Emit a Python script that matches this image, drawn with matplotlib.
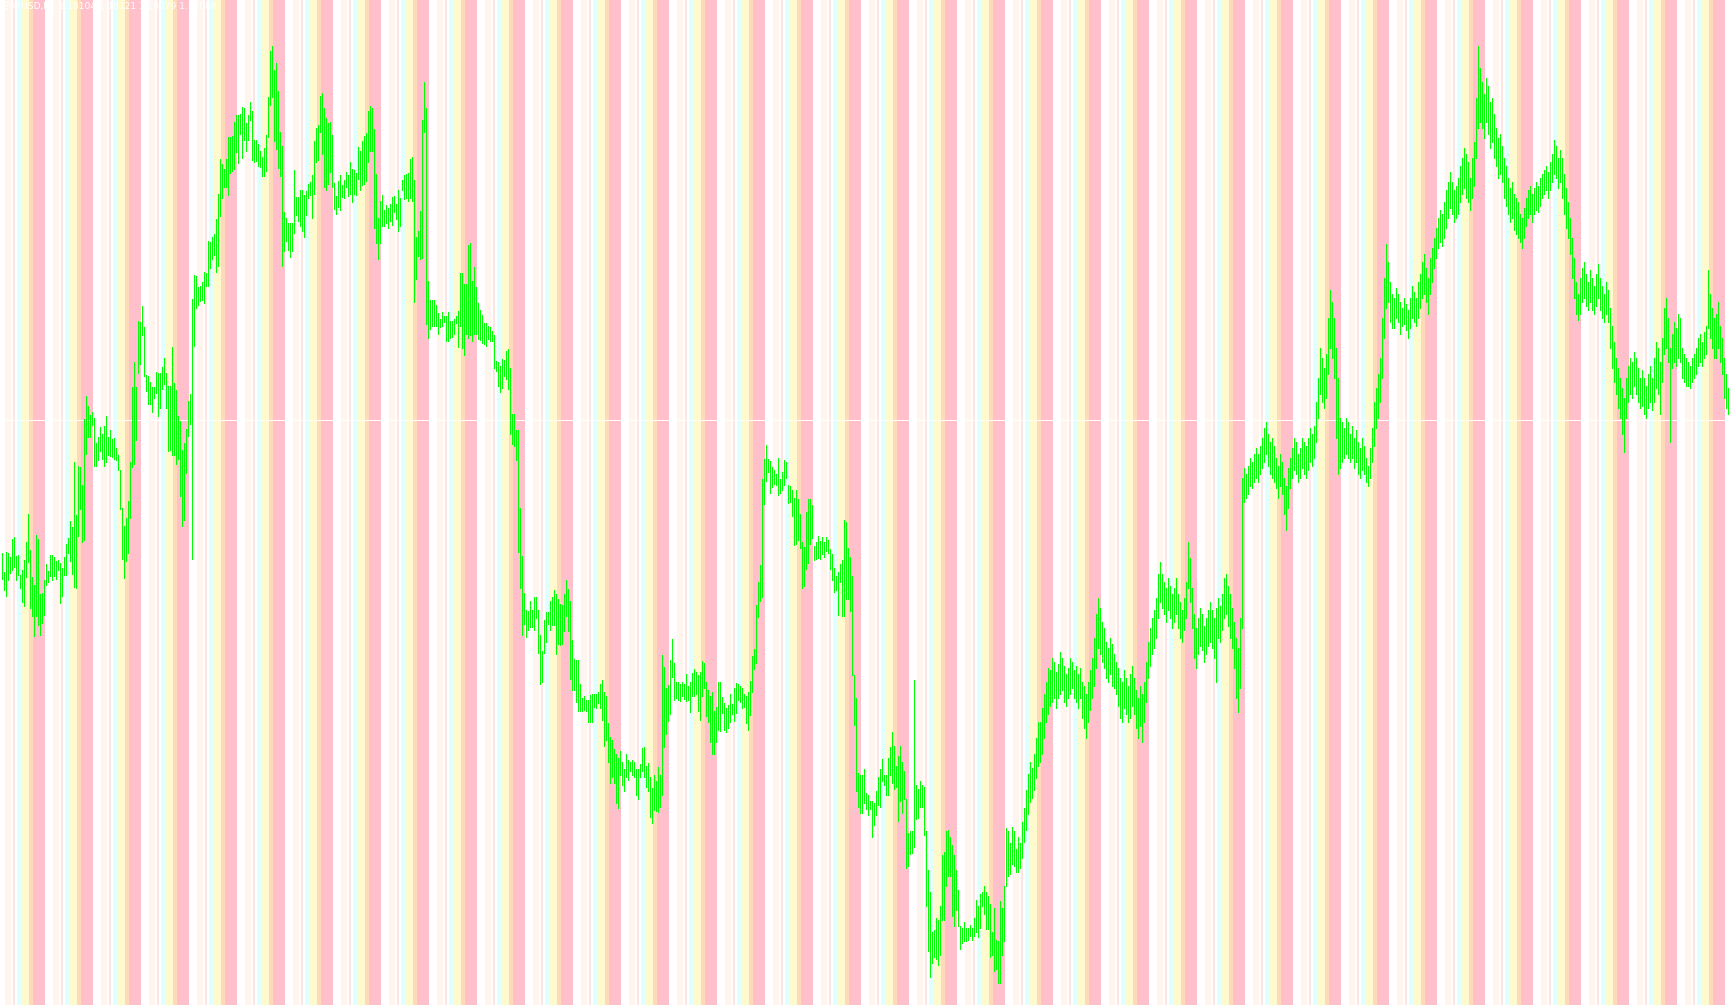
import matplotlib
matplotlib.use("Agg")
import matplotlib.pyplot as plt

# --- DATA (EURUSD H1, prices stored as pips above BASE) ---
SYMBOL = "EURUSD,H1"
BASE = 1.15
LAST_OHLC = [1.18104, 1.18121, 1.18079, 1.18088]
FIRST_HOUR = 22  # hour of the first bar on screen

hi_pips = [
    242.5, 233, 243, 242.5, 240.5, 249.5, 250.5, 241, 241.5, 231.5,
    234, 239, 248, 262, 244, 230.5, 226.5, 251.5, 249.5, 222,
    222.5, 229, 237, 233.5, 241.5, 241.5, 240.5, 238.5, 239, 237.5,
    235, 240.5, 247, 250, 258.5, 255.5, 288, 261.5, 286, 285.5,
    276.5, 309.5, 321, 316, 311.5, 313, 310, 297.5, 300.5, 305.5,
    302, 306, 311, 300.5, 304, 299.5, 300, 295, 291.5, 284,
    265, 256, 260, 268.5, 288, 325.5, 338, 325.5, 358.5, 358,
    366, 355.5, 331.5, 331, 328, 325.5, 325.5, 333, 332.5, 332.5,
    335.5, 340, 332.5, 326, 326, 345.5, 327.5, 324, 311, 308.5,
    294, 297.5, 304.5, 318.5, 322, 369.5, 381.5, 381, 375.5, 376,
    378, 383, 382.5, 398.5, 398, 400.5, 402, 409.5, 422, 439.5,
    437, 434.5, 439.5, 450.5, 450.5, 451, 458, 461.5, 461.5, 462,
    465.5, 465, 457.5, 461.5, 468, 463.5, 449, 449, 447, 443.5,
    440.5, 445, 451.5, 470.5, 493.5, 496, 484, 487.5, 473.5, 453,
    446, 413, 410, 407.5, 407.5, 407.5, 434, 420.5, 420.5, 424,
    424, 421.5, 423.5, 427, 428, 431.5, 448.5, 455, 456.5, 471,
    472.5, 465, 460, 457.5, 458, 451.5, 427.5, 421, 428.5, 431.5,
    426.5, 429, 433, 431.5, 438, 434.5, 434, 432.5, 445.5, 443.5,
    448.5, 451, 452.5, 463.5, 466, 465, 454.5, 432, 410, 418.5,
    421.5, 414, 416.5, 415, 417, 420.5, 421, 417, 424, 420,
    429, 431.5, 432, 432.5, 439.5, 440.5, 429, 400.5, 403.5, 413.5,
    459, 478, 465, 378.5, 369, 369, 369, 366.5, 362.5, 359.5,
    363, 361, 361, 363, 358.5, 358.5, 359.5, 361, 363.5, 382.5,
    382.5, 377, 377, 396.5, 397.5, 378.5, 385.5, 375.5, 367.5, 364,
    361.5, 357.5, 357.5, 356, 355.5, 353.5, 351.5, 338.5, 338, 336,
    339.5, 339, 343.5, 344.5, 335, 312, 312, 304, 304, 265,
    241, 222.5, 214, 213.5, 218.5, 214, 220.5, 220.5, 214, 201.5,
    193.5, 209, 213, 213, 218.5, 220.5, 224, 222, 219.5, 217,
    216.5, 222, 229, 224.5, 218.5, 199, 189.5, 189, 189, 177,
    170, 171, 169, 169, 171.5, 172, 172, 172, 173, 177,
    179, 173, 171, 157.5, 150.5, 149, 144.5, 142, 140, 143.5,
    138, 134.5, 142, 139, 138, 139, 138, 134.5, 134.5, 137,
    145, 145.5, 136, 137.5, 130.5, 125, 131.5, 128.5, 135.5, 131.5,
    191.5, 185.5, 175, 176.5, 189, 199.5, 187.5, 178, 178, 177,
    178, 177, 182, 176, 178, 182.5, 184.5, 183, 181.5, 183,
    188.5, 187.5, 178, 174, 171, 173, 163.5, 165.5, 178, 178,
    170.5, 167.5, 165, 166.5, 172, 167, 175, 177.5, 177, 176,
    175, 172, 171, 173, 178.5, 191, 194.5, 216.5, 228, 236.5,
    279.5, 289.5, 296.5, 289.5, 288.5, 285.5, 284, 282, 290, 279.5,
    283, 289, 288, 276.5, 276, 274, 270, 274, 269.5, 262,
    248, 245.5, 263, 269.5, 269.5, 266.5, 246, 248, 251, 248.5,
    250.5, 248, 250.5, 249, 244.5, 242, 235, 231, 233, 237,
    239, 259, 258, 245, 240.5, 231, 181.5, 170, 132.5, 131.5,
    131.5, 134.5, 122.5, 121.5, 118.5, 118.5, 117.5, 123.5, 130.5, 134.5,
    139.5, 131.5, 131.5, 140, 145.5, 153, 146, 136, 141, 146,
    138, 133.5, 119.5, 102.5, 103.5, 103.5, 179, 126.5, 124.5, 128.5,
    126.5, 125.5, 103.5, 84, 73, 53, 54, 60, 59, 66,
    91.5, 93, 103.5, 104, 100.5, 96.5, 91.5, 84, 74, 56,
    55, 58, 55, 55, 56.5, 55, 60, 69, 66, 72,
    73, 76, 73, 71, 67, 53, 65, 49, 48.5, 68.5,
    65, 76, 105, 103.5, 97.5, 105.5, 103.5, 94.5, 100.5, 97.5,
    108, 115, 124, 132, 138, 135, 142, 150, 158, 158,
    165, 172, 178, 185, 184, 190, 188, 183, 187, 193,
    190, 186, 182, 185, 190, 188, 184, 186, 182, 185,
    178, 176, 172, 178, 184, 190, 200, 212, 220, 215,
    208, 205, 198, 195, 200, 197, 192, 188, 185, 180,
    178, 184, 180, 176, 182, 186, 180, 174, 170, 176,
    172, 178, 188, 198, 205, 210, 214, 220, 232, 238,
    232, 228, 225, 230, 226, 222, 225, 230, 222, 218,
    214, 220, 228, 248, 240, 225, 212, 205, 210, 215,
    212, 206, 210, 214, 218, 214, 210, 215, 220, 216,
    222, 230, 232, 226, 222, 215, 208, 200, 195, 210,
    280, 285, 282, 286, 290, 288, 292, 295, 292, 296,
    300, 305, 308, 302, 298, 300, 296, 290, 286, 292,
    288, 280, 276, 285, 290, 295, 300, 298, 292, 295,
    300, 298, 296, 300, 305, 302, 306, 318, 330, 345,
    340, 335, 342, 360, 374, 368, 360, 345, 330, 310,
    308, 305, 310, 308, 302, 306, 300, 304, 298, 295,
    300, 296, 290, 286, 295, 305, 318, 325, 332, 340,
    360, 380, 397, 388, 378, 372, 370, 375, 372, 368,
    365, 370, 367, 364, 370, 376, 373, 370, 378, 382,
    388, 392, 385, 380, 390, 395, 400, 405, 410, 414,
    412, 418, 424, 428, 433, 428, 424, 426, 430, 436,
    440, 445, 442, 438, 430, 440, 448, 470, 496, 485,
    478, 472, 480, 476, 468, 470, 462, 455, 450, 452,
    446, 440, 436, 430, 425, 428, 422, 420, 418, 412,
    410, 415, 420, 424, 426, 422, 425, 428, 426, 430,
    432, 434, 436, 433, 438, 442, 449, 446, 440, 444,
    440, 432, 425, 418, 410, 400, 390, 378, 372, 380,
    385, 388, 382, 378, 384, 380, 376, 382, 387, 380,
    376, 372, 378, 374, 365, 356, 348, 340, 335, 330,
    325, 320, 330, 336, 340, 338, 343, 340, 335, 330,
    334, 330, 326, 332, 336, 330, 340, 348, 345, 338,
    350, 365, 370, 360, 345, 352, 358, 355, 362, 360,
    345, 342, 340, 338, 336, 340, 342, 345, 350, 352,
    348, 353, 356, 384, 372, 365, 360, 362, 368, 356,
    350, 340, 332, 325, 312.1,
]

lo_pips = [
    229.5, 224, 221, 229, 232.5, 234, 235.5, 229, 231.5, 225,
    218, 216, 230.5, 238, 215, 211, 201, 211, 206.5, 201.5,
    207.5, 211.5, 226.5, 228, 231, 229, 231, 229.5, 234, 217.5,
    221, 231.5, 231.5, 242.5, 238.5, 232, 225.5, 225, 251, 264.5,
    248, 249, 292, 300.5, 300.5, 306.5, 286, 286, 289, 293.5,
    289.5, 286, 288, 291.5, 291, 290.5, 289.5, 289, 284, 264.5,
    239.5, 230, 238.5, 242.5, 260, 285.5, 287, 299, 332.5, 337,
    351.5, 331, 323.5, 317, 317, 313, 320, 322.5, 311, 315,
    324.5, 327, 315, 293.5, 294, 291.5, 291.5, 287, 289.5, 271,
    256, 259, 282.5, 301, 307, 239.5, 346, 365, 366.5, 368.5,
    369, 367.5, 376, 376, 385, 389.5, 391.5, 383, 386, 411,
    420, 425.5, 425.5, 421.5, 432.5, 433.5, 434.5, 443, 437.5, 452,
    440, 449, 443.5, 449, 459, 439, 438, 438.5, 436, 435.5,
    431, 431, 433.5, 450.5, 466.5, 470.5, 448.5, 444.5, 435, 431,
    386, 393.5, 398.5, 394, 390.5, 393.5, 402.5, 411.5, 408.5, 406,
    403.5, 400.5, 411.5, 420, 421.5, 410, 422, 438, 439, 453,
    442, 425.5, 424, 427, 433, 425.5, 414.5, 412, 415.5, 414,
    420.5, 420, 425.5, 421, 422, 418, 422, 421.5, 429.5, 424,
    426.5, 427, 428.5, 438, 443.5, 443.5, 405, 397.5, 389.5, 397.5,
    406, 406, 407.5, 405, 408.5, 406.5, 413, 409.5, 403.5, 406,
    424, 419.5, 420, 418.5, 420, 418.5, 368, 379.5, 391, 389.5,
    390, 453, 357, 350, 354.5, 356, 356, 356, 352, 355.5,
    356, 358, 348.5, 348.5, 350, 350.5, 352, 357.5, 345.5, 356,
    345, 341.5, 352, 350, 351.5, 348.5, 352, 352, 349.5, 349,
    347.5, 347, 346, 349.5, 348.5, 348.5, 335, 333.5, 326, 323,
    325, 331, 329.5, 324.5, 302, 297, 296, 289, 243, 225,
    201.5, 207, 200.5, 204, 205.5, 205.5, 204, 210, 192.5, 177,
    178, 192.5, 198, 207, 204, 206.5, 206.5, 192, 197, 196.5,
    197, 203.5, 211, 203.5, 179.5, 174, 174, 168, 163.5, 163.5,
    163.5, 164, 163.5, 158, 158, 158, 165.5, 165, 167.5, 165,
    159, 146, 149, 138, 127.5, 130.5, 127.5, 117.5, 115, 131.5,
    126.5, 123.5, 130.5, 129, 133.5, 131.5, 130.5, 121.5, 119.5, 130.5,
    133.5, 130.5, 125.5, 123.5, 110.5, 107.5, 114, 113.5, 113, 115.5,
    121.5, 145.5, 152, 158.5, 162, 180.5, 169, 170, 169, 168.5,
    171, 169.5, 168.5, 169, 163, 171, 171, 172, 163.5, 159,
    171, 175, 161, 158, 148, 142, 142, 148, 154, 153.5,
    162.5, 154, 153, 155, 158, 162, 158.5, 162.5, 169, 168,
    165, 165.5, 157.5, 154, 161.5, 173, 184.5, 187.5, 210.5, 218.5,
    220.5, 267, 278.5, 283, 272.5, 275.5, 277, 276.5, 271.5, 272.5,
    274, 276.5, 280, 267.5, 268, 261, 246.5, 247, 249, 245,
    225, 226, 234.5, 237.5, 247, 250, 239, 239.5, 240, 239.5,
    242, 240.5, 243.5, 242.5, 234.5, 229, 223, 224, 211.5, 228,
    211, 211, 219.5, 219.5, 213.5, 181.5, 156.5, 123.5, 115.5, 112.5,
    112.5, 117.5, 114.5, 111.5, 114.5, 100.5, 106.5, 111.5, 116.5, 115.5,
    128.5, 126.5, 121.5, 121.5, 131.5, 127.5, 124.5, 125.5, 108.5, 118.5,
    112.5, 119.5, 85, 86, 92, 92.5, 95.5, 109.5, 110, 115.5,
    115.5, 101.5, 66, 43.5, 30.5, 37.5, 40.5, 39.5, 36.5, 41.5,
    59, 59, 76, 81, 81, 61, 56, 64, 56, 44.5,
    47.5, 48.5, 48.5, 49, 51, 49, 51, 53, 50.5, 55,
    66, 62, 54.5, 54.5, 40.5, 41.5, 33.5, 34.5, 27.5, 27.5,
    41.5, 48.5, 76, 81, 82, 87, 86, 83, 83, 85,
    90, 98, 104, 112, 118, 120, 124, 130, 136, 138,
    142, 150, 158, 162, 166, 168, 170, 165, 170, 172,
    174, 168, 166, 170, 172, 175, 170, 168, 165, 170,
    160, 155, 150, 158, 164, 170, 176, 185, 195, 192,
    188, 185, 180, 178, 182, 176, 175, 172, 166, 160,
    158, 165, 162, 158, 160, 166, 162, 155, 150, 156,
    148, 158, 168, 180, 186, 192, 195, 200, 210, 218,
    215, 212, 208, 214, 210, 205, 208, 212, 205, 200,
    198, 204, 210, 225, 218, 205, 190, 185, 192, 196,
    194, 188, 192, 196, 198, 195, 190, 178, 200, 198,
    204, 210, 212, 206, 200, 195, 185, 170, 163, 175,
    205, 268, 270, 272, 276, 275, 278, 280, 278, 282,
    285, 288, 292, 286, 282, 280, 278, 275, 270, 276,
    272, 262, 254, 265, 275, 280, 284, 282, 278, 280,
    285, 282, 280, 284, 288, 286, 290, 298, 310, 322,
    318, 315, 320, 332, 345, 340, 330, 300, 282, 285,
    288, 290, 292, 290, 288, 290, 285, 288, 282, 280,
    284, 282, 278, 276, 280, 288, 296, 305, 310, 318,
    330, 350, 365, 368, 358, 355, 355, 360, 358, 352,
    356, 357, 354, 350, 355, 360, 358, 356, 360, 365,
    370, 372, 368, 362, 372, 378, 385, 390, 395, 398,
    396, 400, 405, 410, 415, 412, 408, 410, 412, 418,
    422, 425, 420, 418, 414, 420, 426, 440, 455, 458,
    455, 450, 458, 452, 445, 448, 440, 436, 430, 432,
    428, 420, 416, 412, 408, 410, 404, 402, 400, 398,
    395, 400, 406, 410, 412, 408, 412, 414, 413, 416,
    420, 422, 424, 420, 424, 428, 432, 430, 425, 428,
    420, 412, 405, 400, 392, 380, 370, 362, 359, 362,
    368, 370, 366, 364, 368, 364, 362, 366, 370, 364,
    360, 358, 362, 358, 345, 335, 328, 322, 315, 310,
    302, 293, 310, 318, 322, 320, 326, 322, 318, 315,
    316, 312, 310, 315, 318, 314, 318, 325, 322, 312,
    328, 342, 345, 338, 298, 335, 338, 336, 340, 338,
    330, 328, 326, 326, 325, 328, 330, 332, 336, 338,
    336, 340, 342, 355, 350, 345, 340, 340, 345, 338,
    332, 320, 315, 312, 307.9,
]

# colour of the background stripe for each hour of the day
HOUR_COLORS = (["#fff5ee"] * 3 + ["#ffffff", "#ffe4e1", "#ffffff"]
               + ["#e0ffff"] * 2 + ["#fffacd"] * 4 + ["#ffdab9"] * 2
               + ["#ffc0cb"] * 6 + ["#ffffff"] * 4)

highs = [BASE + p / 10000 for p in hi_pips]
lows = [BASE + p / 10000 for p in lo_pips]
n = len(highs)
x = list(range(n))

# --- FIGURE ---
W, H = 1730, 1005
fig = plt.figure(figsize=(W / 100, H / 100), dpi=100)
ax = fig.add_axes([0, 0, 1, 1])
ax.set_axis_off()
ax.set_xlim(-0.75, n - 0.75)
ax.set_ylim(BASE + 16.5 / 10000, BASE + 519 / 10000)

# session stripes, merged into runs of the same colour
run_start = 0
for i in range(1, n + 1):
    c_prev = HOUR_COLORS[(FIRST_HOUR + i - 1) % 24]
    if i == n or HOUR_COLORS[(FIRST_HOUR + i) % 24] != c_prev:
        if c_prev != "#ffffff":
            ax.axvspan(run_start - 0.25, i - 0.25, color=c_prev, lw=0, zorder=0)
        run_start = i

# bid line
ax.axhline(LAST_OHLC[3], color="white", lw=0.6, antialiased=False, zorder=1)

# bars (high-low), one pixel wide
ax.vlines(x, lows, highs, colors="#00ff00", linewidth=0.6,
          antialiased=False, zorder=2)

label = SYMBOL + " " + " ".join(f"{v:.5f}" for v in LAST_OHLC)
fig.text(3 / W, 1 - 2 / H, label, color="white", fontsize=6.5,
         ha="left", va="top")

fig.savefig("out.png", dpi=100, facecolor="white")
plt.close(fig)
